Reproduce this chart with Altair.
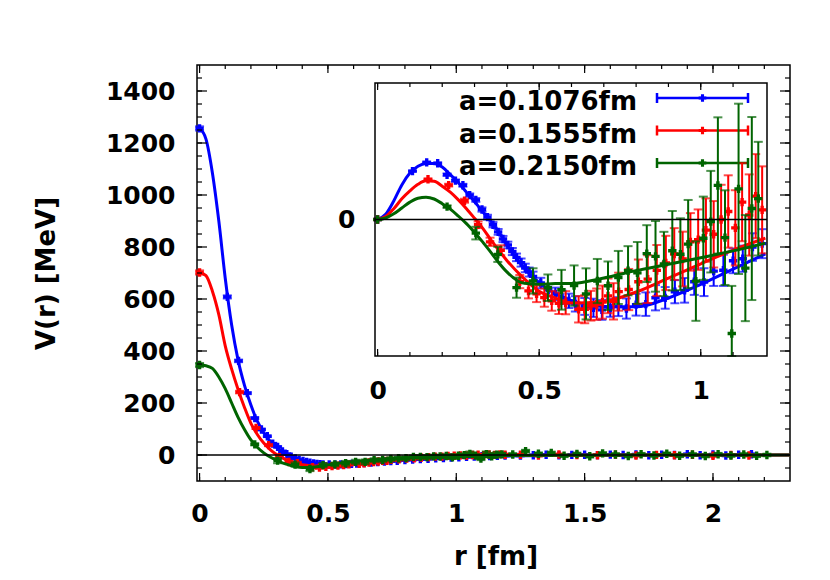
import altair as alt
import pandas as pd

# ---------------- data ----------------
series_labels = ["a=0.1076fm", "a=0.1555fm", "a=0.2150fm"]
series_colors = ["#0000ff", "#ff0000", "#006400"]

blue_r = [0, 0.108, 0.152, 0.186, 0.215, 0.241, 0.264, 0.285, 0.304, 0.323,
          0.340, 0.357, 0.373, 0.388, 0.403, 0.417, 0.430, 0.444, 0.457, 0.469,
          0.481, 0.505, 0.528, 0.550, 0.571, 0.592, 0.612, 0.641, 0.668, 0.694,
          0.720, 0.745, 0.770, 0.800, 0.830, 0.860, 0.890, 0.920, 0.950, 0.980,
          1.010, 1.040, 1.070, 1.100, 1.130, 1.160, 1.190,
          1.25, 1.30, 1.35, 1.40, 1.45, 1.50, 1.55, 1.60, 1.65, 1.70,
          1.75, 1.80, 1.85, 1.90, 1.95, 2.00, 2.05, 2.10, 2.15]
blue_v = [1256, 608, 362, 238, 142, 98, 72, 44, 31, 14,
          3, -6, -13, -19, -23, -27, -30, -32, -34, -35,
          -36, -36.5, -37, -36, -35, -34, -33, -31, -29, -27.5,
          -25, -23, -22, -19.5, -18, -15.5, -14.5, -12.5, -11.5, -9.5,
          -9, -7, -6.5, -5, -4.5, -3, -2.5,
          -2, -1, 1, -1.5, 0.5, 1, -0.5, 1.5, 0, 2,
          -1, 1, 0, 3, -1, 2, -2, 1, 3]
blue_err = [8, 6, 5, 4, 4, 3, 3, 3, 3, 3,
            3, 3, 3, 3, 3, 3, 3, 3, 3, 3,
            3, 3, 3, 3, 3, 3, 3, 3, 3, 3,
            2.5, 2.5, 2.5, 2.5, 2.5, 2.5, 2, 2, 2, 2,
            2, 2, 2, 1.5, 1.5, 1.5, 1.5,
            2, 2, 2, 2, 2, 2, 2, 2, 2, 2,
            2, 2, 2, 2, 2, 2, 2, 2, 2]

red_r = [0, 0.156, 0.220, 0.269, 0.311, 0.348, 0.381, 0.440, 0.467, 0.492,
         0.516, 0.539, 0.561, 0.582, 0.622, 0.641, 0.660, 0.678, 0.696, 0.713,
         0.730, 0.746, 0.777, 0.807, 0.836, 0.864, 0.892, 0.918, 0.944, 0.968,
         0.992, 1.016, 1.040, 1.063, 1.085, 1.107, 1.128, 1.150, 1.170, 1.190,
         1.25, 1.32, 1.40, 1.47, 1.55, 1.62, 1.70, 1.78, 1.85, 1.92,
         2.00, 2.07, 2.14]
red_v = [702, 242, 104, 38, -8, -27, -31, -47, -48, -45,
         -43, -41, -39, -36, -34, -32, -29, -27, -25, -22,
         -22.5, -19, -17, -14, -12.5, -10, -8, -6, -6.5, -3.5,
         -3, -1.5, -2, 0, 1, -1, 2, 0.5, 2.5, 1,
         1, -2, 2, 0, -1, 1.5, -2, 0.5, -1, 1,
         -3, 0, -2]
red_err = [8, 5, 4, 4, 5, 5, 5, 5, 5, 5,
           5, 5, 5, 5, 5, 5, 5, 5, 5, 5,
           5, 5, 5, 5, 5, 5, 5, 4.5, 4.5, 4.5,
           4.5, 4.5, 4.5, 4.5, 4.5, 4.5, 4.5, 4.5, 4.5, 4.5,
           3, 3, 3, 3, 3, 3, 3, 3, 3, 3,
           3, 3, 3]

green_r = [0, 0.215, 0.304, 0.372, 0.430, 0.481, 0.527, 0.569, 0.608, 0.645,
           0.680, 0.713, 0.745, 0.775, 0.804, 0.833, 0.860, 0.886, 0.912, 0.937,
           0.961, 0.985, 1.008, 1.031, 1.053, 1.075, 1.096, 1.117, 1.138, 1.158,
           1.178,
           1.22, 1.27, 1.32, 1.37, 1.42, 1.47, 1.52, 1.57, 1.62, 1.67,
           1.72, 1.77, 1.82, 1.87, 1.92, 1.97, 2.02, 2.07, 2.12, 2.17, 2.21]
green_v = [346, 41, -21.6, -36.9, -54, -38.9, -36, -31.8, -26.2, -26.2,
           -19.5, -19.1, -15.3, -12.5, -12.1, -7.2, -7.3, -8.3, -5.5, -5.8,
           -3.9, -9.3, -2.7, -0.3, 4.5, -2.3, -13.9, 3.6, -5.5, 1.2,
           2.2,
           2, 15, 5, 8, -3, 4, -5, 6, 2, -4,
           3, -2, 5, -3, 2, -4, 3, -2, 2, -3, 0]
green_err = [8, 4, 10, 8, 8, 8, 7, 9, 8, 9,
             7, 7, 7, 6, 7, 6, 7, 6, 7, 6,
             7, 6, 6, 7, 9, 6, 5.8, 10, 6, 10,
             6,
             5, 5, 5, 5, 5, 5, 5, 5, 5, 5,
             5, 5, 5, 5, 5, 5, 5, 5, 5, 5, 5]

# fit curves
curve_r = [0, 0.025, 0.05, 0.075, 0.1, 0.125, 0.15, 0.175, 0.2, 0.225,
           0.25, 0.275, 0.3, 0.325, 0.35, 0.375, 0.4, 0.45, 0.5, 0.55,
           0.6, 0.7, 0.8, 0.9, 1.0, 1.1, 1.2, 1.4, 1.7, 2.0, 2.3]
blue_fit = [1256, 1215, 1085, 900, 680, 500, 365, 268, 192, 130,
            86, 53, 29, 11, -1.6, -12.8, -23, -34, -37, -36,
            -33, -26, -20, -14.2, -9.5, -6.0, -3.5, -1.5, -0.5, 0, 0]
red_fit = [702, 690, 630, 540, 420, 330, 252, 183, 122, 79,
           46, 21, 2, -12, -24, -32, -37.5, -42, -42, -38,
           -34, -24.5, -16.6, -10.6, -6.5, -3.7, -1.9, -0.5, 0, 0, 0]
green_fit = [346, 343, 333, 300, 255, 200, 145, 98, 58, 30,
             8, -8, -21, -31, -39, -45, -48, -46, -38, -31,
             -26, -17.5, -11.7, -8.1, -5.6, -3.8, -2.4, -1, -0.3, 0, 0]

# tick values
main_x_labels = [0, 0.5, 1, 1.5, 2]
main_x_minor = [0, 0.1, 0.2, 0.3, 0.4, 0.5, 0.6, 0.7, 0.8, 0.9, 1.0, 1.1,
                1.2, 1.3, 1.4, 1.5, 1.6, 1.7, 1.8, 1.9, 2.0, 2.1, 2.2]
main_y_labels = [0, 200, 400, 600, 800, 1000, 1200, 1400]
main_y_minor = [-50 + 50 * i for i in range(31)]
inset_x_labels = [0, 0.5, 1]
inset_x_minor = [0, 0.1, 0.2, 0.3, 0.4, 0.5, 0.6, 0.7, 0.8, 0.9, 1.0, 1.1]
inset_y_labels = [0]

# ---------------- layout ----------------
W, H = 593, 416
XM = alt.Scale(domain=[-0.01, 2.3], nice=False, zero=False)
YM = alt.Scale(domain=[-100, 1500], nice=False, zero=False)
XI_DOM = [-0.008, 1.205]
YI_DOM = [-20, 20]
XI = alt.Scale(domain=XI_DOM, range=[178, 570], nice=False, zero=False, clamp=True)
YI = alt.Scale(domain=YI_DOM, range=[291, 18], nice=False, zero=False, clamp=True)

AXM = alt.Axis(values=main_x_labels, format="~g", labelPadding=20,
               title="r [fm]", titleX=W / 2 + 2, titleY=75, titleBaseline="middle")
AYM = alt.Axis(values=main_y_labels, format="d", labelPadding=22,
               title="V(r) [MeV]", titleX=-151, titleY=208, titleAngle=270,
               titleBaseline="middle")
AXI = alt.Axis(orient="bottom", offset=-(H - 291), values=inset_x_labels, format="~g",
               labelPadding=22, title="")
AYI = alt.Axis(orient="left", offset=-178, values=inset_y_labels, format="d",
               labelPadding=20, title="")

FONT = "DejaVu Sans"


def make_points(r, v, e):
    df = pd.DataFrame({"r": r, "V": v, "err": e})
    df["lo"] = df["V"] - df["err"]
    df["hi"] = df["V"] + df["err"]
    df["w"] = df["r"] ** 2 * df["V"]
    df["wlo"] = df["r"] ** 2 * df["lo"]
    df["whi"] = df["r"] ** 2 * df["hi"]
    return df


def make_curve(r, v):
    df = pd.DataFrame({"r": r, "V": v})
    df["w"] = df["r"] ** 2 * df["V"]
    return df


def series_layers(pdf, cdf, col, xs, ys, ax, ay, vf, lof, hif):
    X = alt.X("r:Q", scale=xs, axis=ax)
    line = alt.Chart(cdf).mark_line(color=col, strokeWidth=3, interpolate="monotone").encode(
        x=X, y=alt.Y(f"{vf}:Q", scale=ys, axis=ay))
    base = alt.Chart(pdf)
    bars = base.mark_rule(color=col, strokeWidth=2).encode(
        x=X, y=alt.Y(f"{lof}:Q", scale=ys, axis=ay), y2=alt.Y2(f"{hif}:Q"))
    cap_lo = base.mark_tick(color=col, orient="horizontal", size=9, thickness=2).encode(
        x=X, y=alt.Y(f"{lof}:Q", scale=ys, axis=ay))
    cap_hi = base.mark_tick(color=col, orient="horizontal", size=9, thickness=2).encode(
        x=X, y=alt.Y(f"{hif}:Q", scale=ys, axis=ay))
    pts = base.mark_point(shape="cross", filled=True, size=70, color=col, opacity=1).encode(
        x=X, y=alt.Y(f"{vf}:Q", scale=ys, axis=ay))
    return [line, bars, cap_lo, cap_hi, pts]


series = [
    (make_points(blue_r, blue_v, blue_err), make_curve(curve_r, blue_fit), series_colors[0]),
    (make_points(red_r, red_v, red_err), make_curve(curve_r, red_fit), series_colors[1]),
    (make_points(green_r, green_v, green_err), make_curve(curve_r, green_fit), series_colors[2]),
]

# ---------------- main panel ----------------
main_layers = []
for pdf, cdf, col in series:
    main_layers += series_layers(pdf, cdf, col, XM, YM, AXM, AYM, "V", "lo", "hi")

zero_main = alt.Chart(pd.DataFrame({"z": [0]})).mark_rule(color="black", strokeWidth=1.5).encode(
    y=alt.Y("z:Q", scale=YM, axis=AYM))
main_layers.append(zero_main)

# inward ticks of the main frame
xmin_df = pd.DataFrame({"t": main_x_minor})
xmaj_df = pd.DataFrame({"t": main_x_labels})
ymin_df = pd.DataFrame({"t": main_y_minor})
ymaj_df = pd.DataFrame({"t": main_y_labels})
for d, ln in [(xmin_df, 4), (xmaj_df, 8)]:
    tx = alt.X("t:Q", scale=XM, axis=AXM)
    main_layers.append(alt.Chart(d).mark_rule(color="black", strokeWidth=1.2).encode(
        x=tx, y=alt.value(H), y2=alt.value(H - ln)))
    main_layers.append(alt.Chart(d).mark_rule(color="black", strokeWidth=1.2).encode(
        x=tx, y=alt.value(0), y2=alt.value(ln)))
for d, ln in [(ymin_df, 5), (ymaj_df, 10)]:
    ty = alt.Y("t:Q", scale=YM, axis=AYM)
    main_layers.append(alt.Chart(d).mark_rule(color="black", strokeWidth=1.2).encode(
        y=ty, x=alt.value(0), x2=alt.value(ln)))
    main_layers.append(alt.Chart(d).mark_rule(color="black", strokeWidth=1.2).encode(
        y=ty, x=alt.value(W), x2=alt.value(W - ln)))

# key (inside the inset, top right)
LEG_Y = [33, 65.5, 98]
for i, (lab, col) in enumerate(zip(series_labels, series_colors)):
    ldf = pd.DataFrame({"label": [lab]})
    yl = LEG_Y[i]
    main_layers.append(alt.Chart(ldf).mark_text(
        font=FONT, fontWeight="bold", fontSize=26, align="right", baseline="middle",
        color="black").encode(text="label:N", x=alt.value(440), y=alt.value(yl + 4)))
    main_layers.append(alt.Chart(ldf).mark_rule(color=col, strokeWidth=2.5).encode(
        x=alt.value(460), x2=alt.value(551), y=alt.value(yl)))
    for xc in (460, 551):
        main_layers.append(alt.Chart(ldf).mark_rule(color=col, strokeWidth=2.5).encode(
            x=alt.value(xc), y=alt.value(yl - 5), y2=alt.value(yl + 5)))
    main_layers.append(alt.Chart(ldf).mark_point(shape="cross", filled=True, size=60,
                                                 color=col, opacity=1).encode(
        x=alt.value(505.5), y=alt.value(yl)))

main = alt.layer(*main_layers)

# ---------------- inset: r^2 V(r) ----------------
inset_layers = []
for pdf, cdf, col in series:
    p_in = pdf[pdf["r"] <= XI_DOM[1]]
    c_in = cdf[cdf["r"] <= XI_DOM[1]]
    inset_layers += series_layers(p_in, c_in, col, XI, YI, AXI, AYI, "w", "wlo", "whi")

frame_df = pd.DataFrame({"x0": [XI_DOM[0]], "x1": [XI_DOM[1]], "y0": [YI_DOM[0]],
                         "y1": [YI_DOM[1]], "z": [0]})
inset_layers.append(alt.Chart(frame_df).mark_rule(color="black", strokeWidth=1.5).encode(
    x=alt.X("x0:Q", scale=XI, axis=AXI), x2=alt.X2("x1:Q"), y=alt.Y("z:Q", scale=YI, axis=AYI)))
ixmin_df = pd.DataFrame({"t": inset_x_minor})
ixmaj_df = pd.DataFrame({"t": inset_x_labels})
for d, ln in [(ixmin_df, 4), (ixmaj_df, 7)]:
    tx = alt.X("t:Q", scale=XI, axis=AXI)
    inset_layers.append(alt.Chart(d).mark_rule(color="black", strokeWidth=1.2).encode(
        x=tx, y=alt.value(291), y2=alt.value(291 - ln)))
    inset_layers.append(alt.Chart(d).mark_rule(color="black", strokeWidth=1.2).encode(
        x=tx, y=alt.value(18), y2=alt.value(18 + ln)))
inset_layers.append(alt.Chart(frame_df).mark_rect(fillOpacity=0, stroke="black", strokeWidth=1.5).encode(
    x=alt.X("x0:Q", scale=XI, axis=AXI), x2=alt.X2("x1:Q"),
    y=alt.Y("y0:Q", scale=YI, axis=AYI), y2=alt.Y2("y1:Q")))

inset = alt.layer(*inset_layers)

chart = alt.layer(main, inset).resolve_scale(x="independent", y="independent").properties(
    width=W, height=H,
    autosize=alt.AutoSizeParams(type="none"),
    padding={"left": 189, "top": 57, "right": 30, "bottom": 91},
).configure_view(stroke="black", strokeWidth=1.5).configure_axis(
    grid=False, domain=False, ticks=False, labelFlush=False, labelOverlap=False,
    labelFont=FONT, labelFontWeight="bold", labelFontSize=25, labelColor="black",
    titleFont=FONT, titleFontWeight="bold", titleFontSize=26, titleColor="black",
)

chart.save("out.html", embed_options={"renderer": "svg", "actions": False})
